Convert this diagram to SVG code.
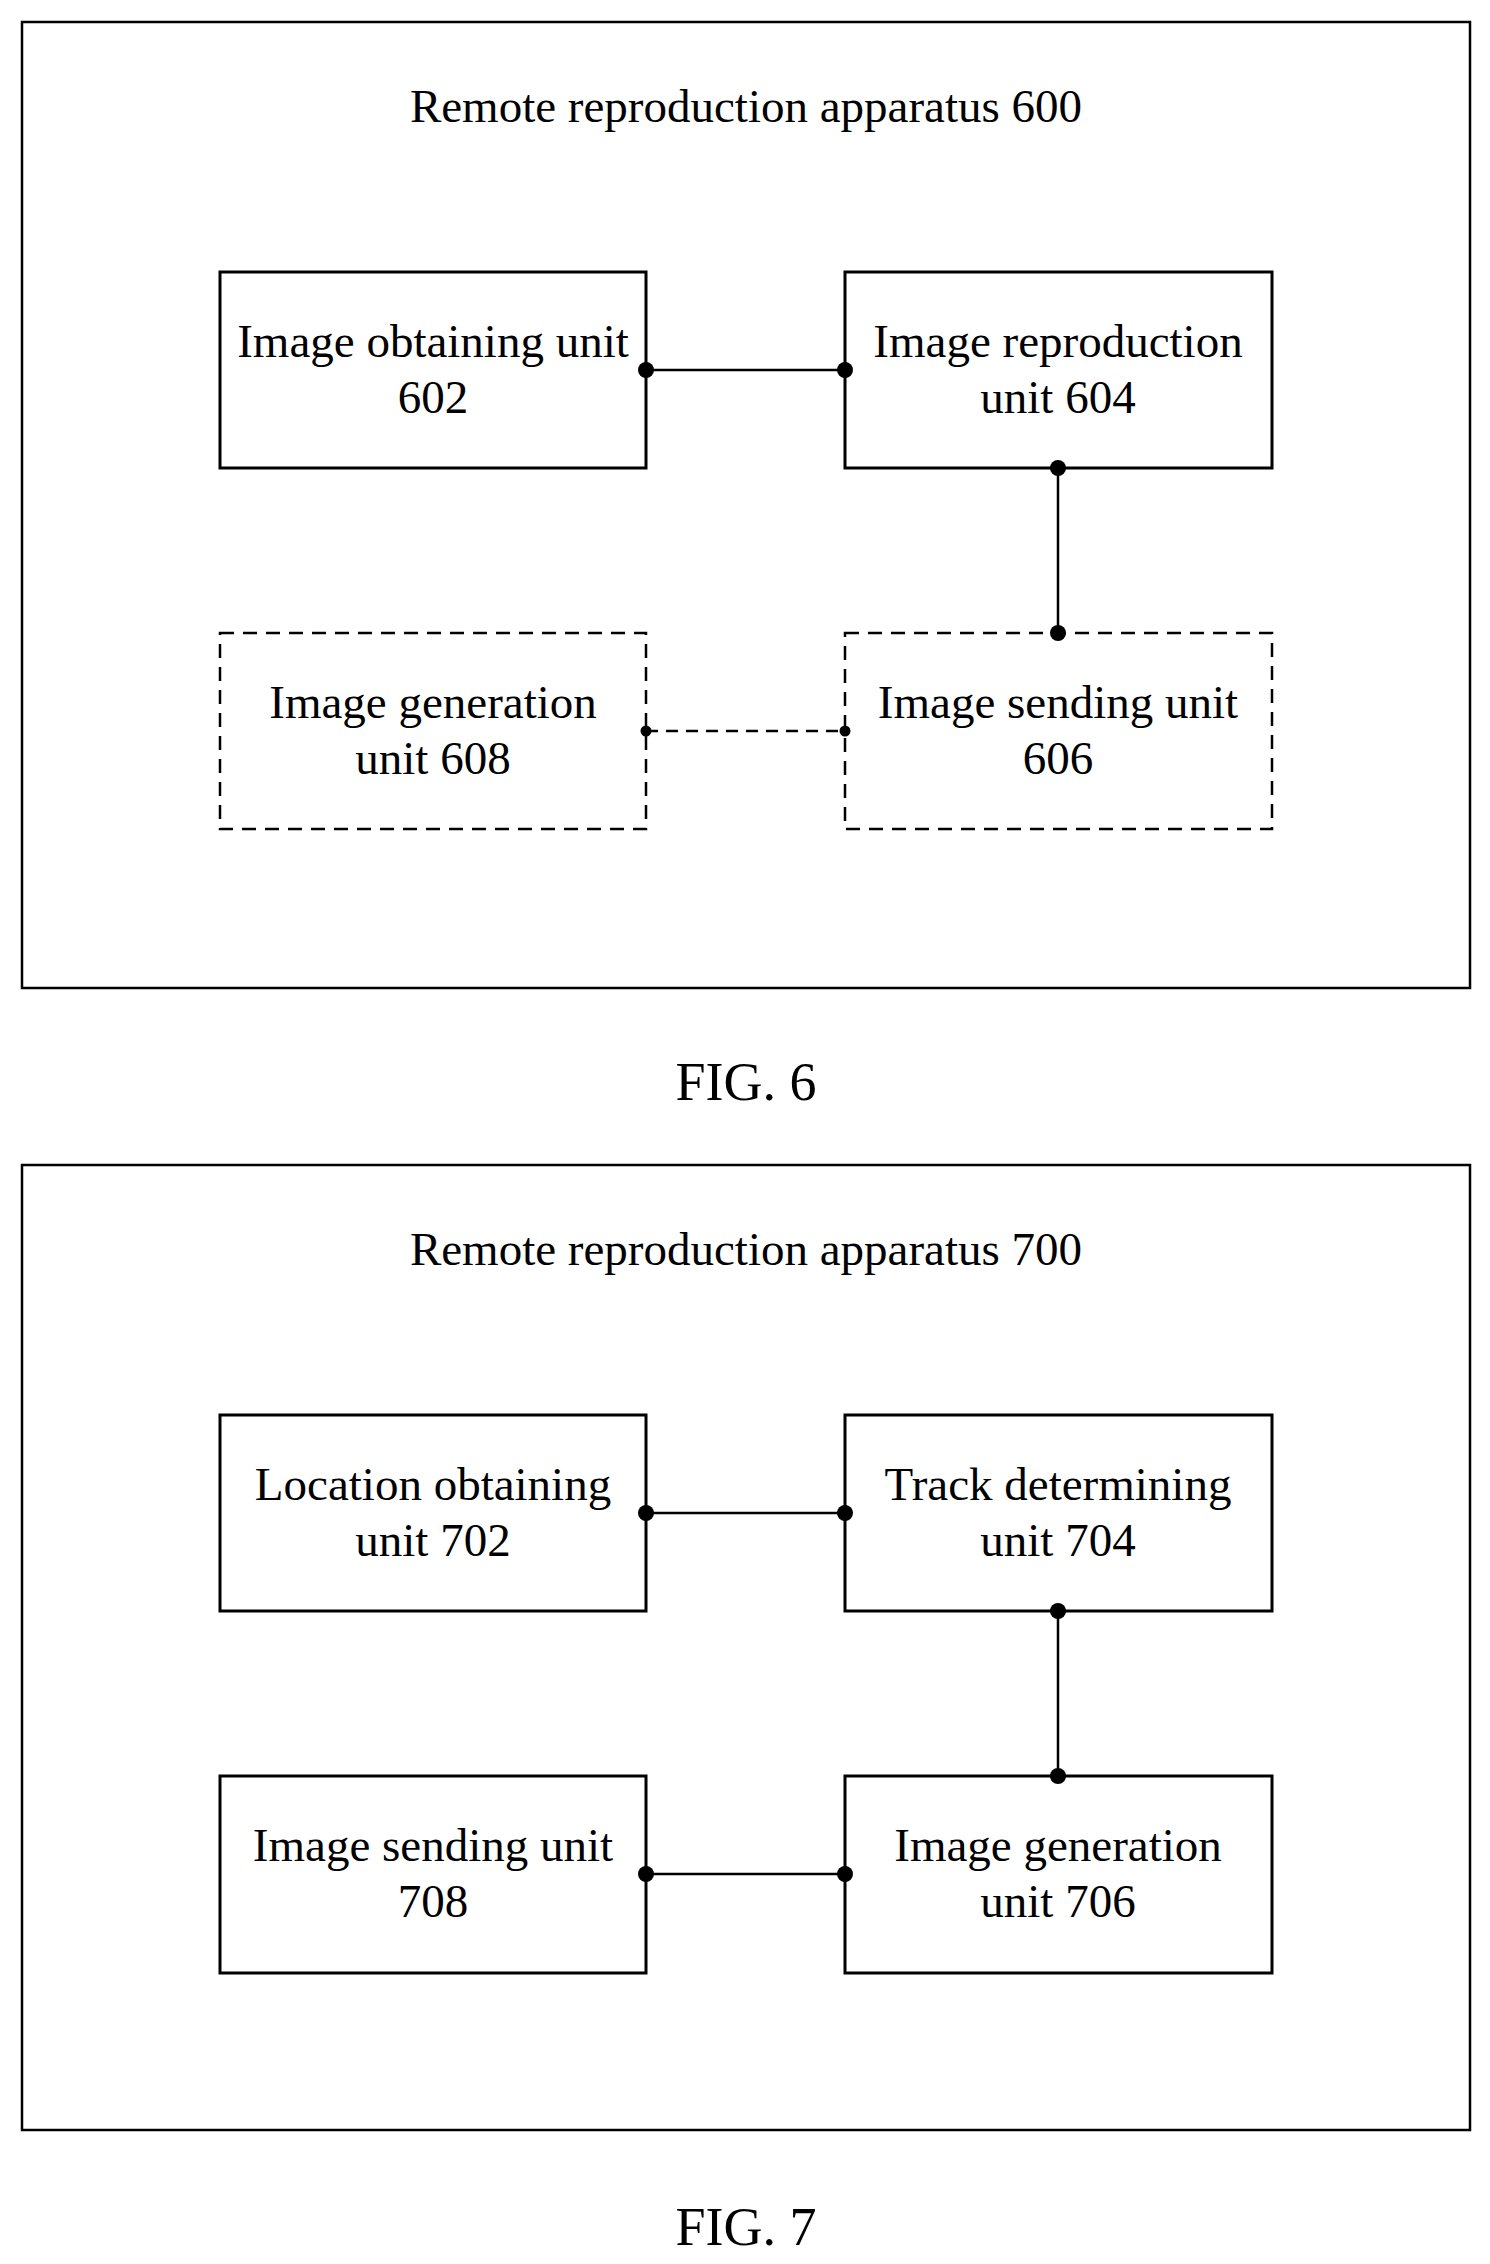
<svg xmlns="http://www.w3.org/2000/svg" width="1490" height="2264" viewBox="0 0 1490 2264">
<style>
text{font-family:"Liberation Serif","Times New Roman",serif;fill:#000;text-anchor:middle}
.t{font-size:47px}.f{font-size:54px}
.o{fill:none;stroke:#000;stroke-width:2.5}
.b{fill:#fff;stroke:#000;stroke-width:3}
.d{fill:#fff;stroke:#000;stroke-width:2.5;stroke-dasharray:14 9}
.c{stroke:#000;stroke-width:2.5;fill:none}
.cd{stroke:#000;stroke-width:2.5;fill:none;stroke-dasharray:12 8}
</style>
<rect width="1490" height="2264" fill="#fff"/>
<g id="fig6">
<rect class="o" x="22" y="22" width="1448" height="966"/>
<text class="t" x="746" y="122">Remote reproduction apparatus 600</text>
<text class="f" x="746" y="1100">FIG. 6</text>
</g>
<g id="n602"><rect class="b" x="220" y="272" width="426" height="196"/><text class="t" x="433" y="357">Image obtaining unit</text><text class="t" x="433" y="413">602</text></g>
<g id="n604"><rect class="b" x="845" y="272" width="427" height="196"/><text class="t" x="1058" y="357">Image reproduction</text><text class="t" x="1058" y="413">unit 604</text></g>
<g id="n608"><rect class="d" x="220" y="633" width="426" height="196"/><text class="t" x="433" y="718">Image generation</text><text class="t" x="433" y="774">unit 608</text></g>
<g id="n606"><rect class="d" x="845" y="633" width="427" height="196"/><text class="t" x="1058" y="718">Image sending unit</text><text class="t" x="1058" y="774">606</text></g>
<g id="fig7">
<rect class="o" x="22" y="1165" width="1448" height="965"/>
<text class="t" x="746" y="1265">Remote reproduction apparatus 700</text>
<text class="f" x="746" y="2245">FIG. 7</text>
</g>
<g id="n702"><rect class="b" x="220" y="1415" width="426" height="196"/><text class="t" x="433" y="1500">Location obtaining</text><text class="t" x="433" y="1556">unit 702</text></g>
<g id="n704"><rect class="b" x="845" y="1415" width="427" height="196"/><text class="t" x="1058" y="1500">Track determining</text><text class="t" x="1058" y="1556">unit 704</text></g>
<g id="n708"><rect class="b" x="220" y="1776" width="426" height="197"/><text class="t" x="433" y="1861">Image sending unit</text><text class="t" x="433" y="1917">708</text></g>
<g id="n706"><rect class="b" x="845" y="1776" width="427" height="197"/><text class="t" x="1058" y="1861">Image generation</text><text class="t" x="1058" y="1917">unit 706</text></g>
<g id="connectors">
<line class="c" x1="646" y1="370" x2="845" y2="370"/>
<line class="c" x1="1058" y1="468" x2="1058" y2="633"/>
<line class="cd" x1="646" y1="731" x2="845" y2="731"/>
<line class="c" x1="646" y1="1513" x2="845" y2="1513"/>
<line class="c" x1="1058" y1="1611" x2="1058" y2="1776"/>
<line class="c" x1="646" y1="1874" x2="845" y2="1874"/>
<g fill="#000">
<circle cx="646" cy="370" r="8"/><circle cx="845" cy="370" r="8"/>
<circle cx="1058" cy="468" r="8"/><circle cx="1058" cy="633" r="8"/>
<circle cx="646" cy="731" r="5.5"/><circle cx="845" cy="731" r="5.5"/>
<circle cx="646" cy="1513" r="8"/><circle cx="845" cy="1513" r="8"/>
<circle cx="1058" cy="1611" r="8"/><circle cx="1058" cy="1776" r="8"/>
<circle cx="646" cy="1874" r="8"/><circle cx="845" cy="1874" r="8"/>
</g>
</g>
</svg>
